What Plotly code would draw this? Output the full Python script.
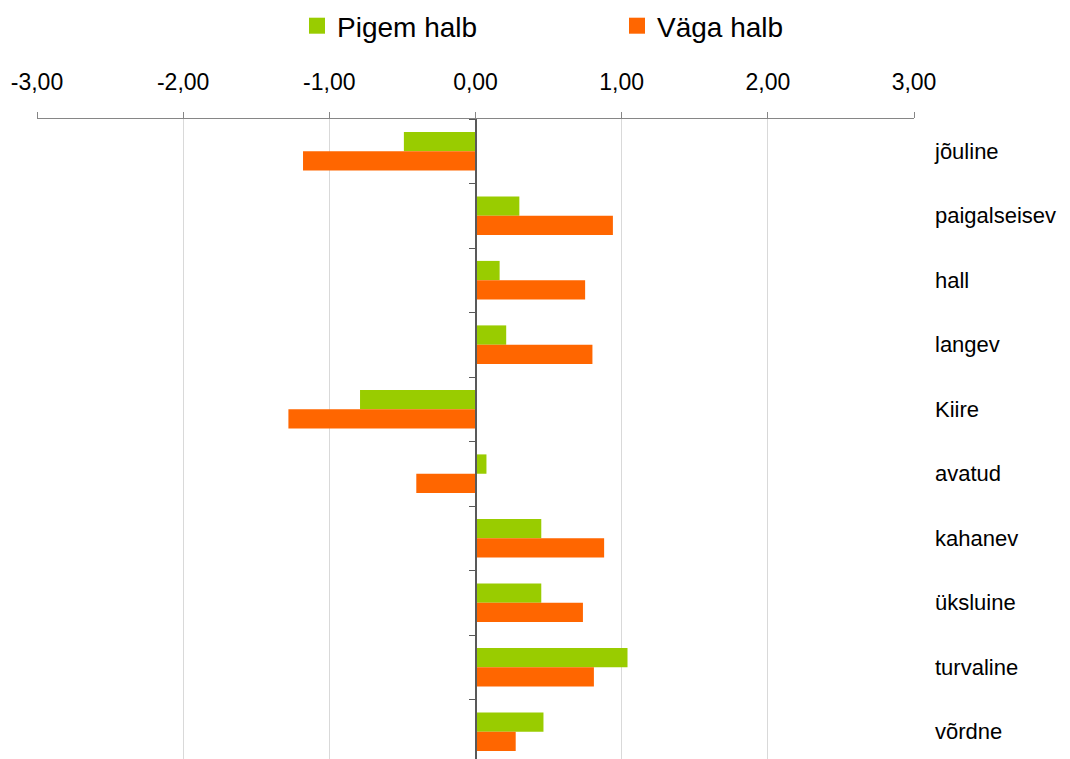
import plotly.graph_objects as go

categories = ["jõuline", "paigalseisev", "hall", "langev", "Kiire",
              "avatud", "kahanev", "üksluine", "turvaline", "võrdne"]
pigem_halb = [-0.49, 0.30, 0.165, 0.21, -0.79, 0.075, 0.45, 0.45, 1.04, 0.465]
vaga_halb = [-1.18, 0.94, 0.75, 0.80, -1.28, -0.405, 0.88, 0.735, 0.81, 0.275]
series_names = ["Pigem halb", "Väga halb"]
series_colors = ["#99CC00", "#FF6600"]
x_tickvals = [-3, -2, -1, 0, 1, 2, 3]
x_ticktext = ["-3,00", "-2,00", "-1,00", "0,00", "1,00", "2,00", "3,00"]

FONT = "Liberation Sans, Arial, sans-serif"
n = len(categories)
yrange = [-0.5 + 640 / 64.5, -0.5]

W, H = 1062, 751  # page body has an 8px margin

fig = go.Figure()
for name, vals, col in zip(series_names, [pigem_halb, vaga_halb], series_colors):
    fig.add_trace(go.Bar(x=vals, y=categories, orientation="h", name=name,
                         marker=dict(color=col, line=dict(width=0)),
                         showlegend=False, xaxis="x", yaxis="y"))
# legend entries (no data) on the zero-line axis
for name, col in zip(series_names, series_colors):
    fig.add_trace(go.Scatter(x=[None], y=[None], mode="markers", name=name,
                             marker=dict(symbol="square", size=18, color=col),
                             xaxis="x", yaxis="y2", showlegend=True))

fig.update_layout(
    width=W, height=H,
    margin=dict(l=29, r=156, t=111, b=0, autoexpand=False),
    paper_bgcolor="white", plot_bgcolor="white",
    font=dict(family=FONT, color="#000000"),
    barmode="group", bargap=0.4, bargroupgap=0,
    showlegend=True,
    legend=dict(orientation="h", xref="container", yref="container",
                x=289 / W, y=1 - 18 / H, xanchor="left", yanchor="middle",
                entrywidth=275, entrywidthmode="pixels",
                font=dict(size=28, family=FONT, color="#000000"),
                itemsizing="trace", bgcolor="rgba(0,0,0,0)"),
    xaxis=dict(side="top", range=[-3, 3], tickvals=x_tickvals, ticktext=x_ticktext,
               showline=True, linecolor="#868686", linewidth=1,
               ticks="outside", ticklen=6, tickcolor="#868686",
               showgrid=True, gridcolor="#D9D9D9", gridwidth=1, zeroline=False,
               tickfont=dict(size=23, family=FONT, color="#000000"),
               ticklabelstandoff=13, automargin=False),
    yaxis=dict(range=yrange, side="right", showline=False, ticks="",
               showgrid=False, zeroline=False, automargin=False,
               tickfont=dict(size=22, family=FONT, color="#000000"),
               ticklabelstandoff=20),
    yaxis2=dict(overlaying="y", anchor="free", position=0.5, side="left",
                type="linear", range=yrange, showline=True, linecolor="#595959",
                linewidth=1.5, ticks="outside", ticklen=6, tickcolor="#595959",
                tickvals=[i - 0.5 for i in range(n + 1)], showticklabels=False,
                showgrid=False, zeroline=False, automargin=False),
)

fig.write_html("out.html")
